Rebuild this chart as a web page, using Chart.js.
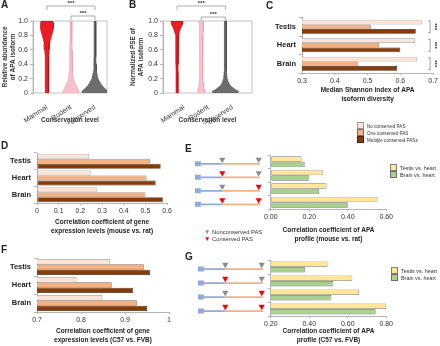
<!DOCTYPE html>
<html>
<head>
<meta charset="utf-8">
<script src="https://cdn.jsdelivr.net/npm/chart.js@4.4.1/dist/chart.umd.min.js"></script>
<style>
  body { margin: 0; background: #fff; }
  #fig { position: relative; width: 440px; height: 346px; overflow: hidden; font-family: "Liberation Sans", Arial, sans-serif; color: #222; }
  #fig canvas { position: absolute; }
  .tag { position: absolute; font: bold 10px "Liberation Sans", Arial, sans-serif; line-height: 10px; }
  .leg { position: absolute; font-size: 5.4px; line-height: 7px; white-space: nowrap; color: #333; }
  .leg div { height: 7px; }
  .sw { display: inline-block; width: 5px; height: 5px; border: 0.6px solid #777; margin-right: 3px; vertical-align: -1px; }
  .tri { display: inline-block; width: 8px; font-size: 6.5px; }
</style>
</head>
<body>
<div id="fig">
  <canvas id="chartA" width="112" height="124" style="left:0;top:0"></canvas>
  <canvas id="chartB" width="129" height="124" style="left:128px;top:0"></canvas>
  <canvas id="chartC" width="172" height="95" style="left:268px;top:10px"></canvas>
  <canvas id="chartD" width="174" height="92" style="left:0;top:145px"></canvas>
  <canvas id="geneE" width="75" height="64" style="left:190px;top:150px"></canvas>
  <canvas id="chartE" width="133" height="95" style="left:262px;top:150px"></canvas>
  <canvas id="chartF" width="174" height="96" style="left:0;top:250px"></canvas>
  <canvas id="geneG" width="75" height="66" style="left:193px;top:255px"></canvas>
  <canvas id="chartG" width="133" height="91" style="left:262px;top:255px"></canvas>

  <div class="tag" style="left:1px;top:0">A</div>
  <div class="tag" style="left:129px;top:0">B</div>
  <div class="tag" style="left:266px;top:1px">C</div>
  <div class="tag" style="left:1px;top:141px">D</div>
  <div class="tag" style="left:185px;top:144px">E</div>
  <div class="tag" style="left:1px;top:245px">F</div>
  <div class="tag" style="left:185px;top:252px">G</div>

  <div class="leg" id="legC" style="left:357px;top:122px;font-size:4.6px"></div>
  <div class="leg" id="legE" style="left:390px;top:162px;line-height:13px"></div>
  <div class="leg" id="legG" style="left:391px;top:265px;line-height:12px"></div>
  <div class="leg" id="legPAS" style="left:204px;top:228px;font-size:5.8px;line-height:8px"></div>
</div>

<script>
// ---- data ----

// A / B violins: half-width (in category units) at each level of the value axis
const violinLevels = [0, 0.02, 0.05, 0.1, 0.15, 0.2, 0.3, 0.4, 0.5, 0.6, 0.7, 0.8, 0.85, 0.9, 0.95, 0.98, 1.0];
const conservationGroups = ['Mammal', 'Rodent', 'Nonconserved'];
const abundanceMammal = [0.06, 0.06, 0.06, 0.065, 0.065, 0.07, 0.072, 0.075, 0.08, 0.09, 0.12, 0.19, 0.24, 0.27, 0.27, 0.26, 0.24];
const abundanceRodent = [0.3, 0.34, 0.3, 0.22, 0.15, 0.1, 0.07, 0.06, 0.05, 0.045, 0.04, 0.04, 0.035, 0.035, 0.035, 0.035, 0.035];
const abundanceNoncons = [0.5, 0.55, 0.45, 0.3, 0.2, 0.12, 0.06, 0.045, 0.04, 0.035, 0.035, 0.035, 0.035, 0.035, 0.035, 0.035, 0.035];
const pseMammal = [0.04, 0.04, 0.04, 0.04, 0.04, 0.04, 0.04, 0.045, 0.045, 0.045, 0.05, 0.07, 0.1, 0.15, 0.22, 0.24, 0.25];
const pseRodent = [0.12, 0.14, 0.14, 0.1, 0.08, 0.07, 0.06, 0.06, 0.06, 0.06, 0.07, 0.07, 0.08, 0.08, 0.09, 0.1, 0.1];
const pseNoncons = [0.5, 0.55, 0.4, 0.2, 0.12, 0.07, 0.05, 0.04, 0.04, 0.04, 0.04, 0.04, 0.04, 0.04, 0.04, 0.04, 0.04];

// C, D, F
const tissues = ['Testis', 'Heart', 'Brain'];
const pasClasses = ['No conserved PAS', 'One conserved PAS', 'Multiple conserved PASs'];
const shannonNoCons = [0.665, 0.645, 0.65];
const shannonOneCons = [0.51, 0.535, 0.47];
const shannonMultiCons = [0.647, 0.60, 0.59];

const exprRatNoCons = [0.24, 0.25, 0.275];
const exprRatOneCons = [0.52, 0.505, 0.50];
const exprRatMultiCons = [0.57, 0.547, 0.58];

const exprFvbNoCons = [0.866, 0.79, 0.848];
const exprFvbOneCons = [0.943, 0.87, 0.927];
const exprFvbMultiCons = [0.957, 0.918, 0.95];

// E, G: four gene models (rows)
const geneModels = ['none', 'proximal', 'distal', 'both'];
const proximalConserved = [false, true, false, true];
const distalConserved = [false, false, true, true];
const comparisons = ['Testis vs. heart', 'Brain vs. heart'];
const apaRatTestis = [0.16, 0.27, 0.29, 0.555];
const apaRatBrain = [0.176, 0.20, 0.25, 0.40];
const apaFvbTestis = [0.495, 0.624, 0.658, 0.80];
const apaFvbBrain = [0.377, 0.525, 0.515, 0.745];

// ---- styles ----
const FONT = '"Liberation Sans", Arial, sans-serif';
Chart.defaults.font.family = FONT;
Chart.defaults.font.size = 7;
Chart.defaults.color = '#333';
Chart.defaults.animation = false;
Chart.defaults.responsive = false;
Chart.defaults.plugins.legend.display = false;
Chart.defaults.plugins.tooltip.enabled = false;

const AXIS = '#b5b5b5';
const pasFill = ['#fce4d6', '#f4b183', '#843c0c'];
const pasLine = ['#9a9a9a', '#8a6a55', '#4e2208'];
const cmpFill = ['#ffe699', '#a9d18e'];
const cmpLine = ['#7f7f7f', '#6d6d6d'];
const titleFont = { size: 6.5, weight: 'bold', lineHeight: 1.3 };
const catFont = { size: 7.5, weight: 'bold' };

// frame box around plot area (A, B)
const frame = {
  id: 'frame',
  beforeDatasetsDraw(chart, args, opts) {
    const { ctx, chartArea: a } = chart;
    ctx.save();
    ctx.strokeStyle = opts.color || AXIS;
    ctx.lineWidth = 0.8;
    ctx.strokeRect(a.left, a.top, a.right - a.left, a.bottom - a.top);
    ctx.restore();
  }
};

// significance brackets above violins
const topBrackets = {
  id: 'topBrackets',
  afterDraw(chart, args, opts) {
    const { ctx, scales: { x } } = chart;
    ctx.save();
    ctx.strokeStyle = '#999';
    ctx.lineWidth = 0.8;
    ctx.fillStyle = '#333';
    ctx.font = 'bold 6px ' + FONT;
    ctx.textAlign = 'center';
    (opts.pairs || []).forEach(([a, b, y]) => {
      const x1 = x.getPixelForValue(a), x2 = x.getPixelForValue(b);
      ctx.beginPath();
      ctx.moveTo(x1, y + 4); ctx.lineTo(x1, y); ctx.lineTo(x2, y); ctx.lineTo(x2, y + 4);
      ctx.stroke();
      ctx.fillText('***', (x1 + x2) / 2, y - 1);
    });
    ctx.restore();
  }
};

// "] ***" markers right of each tissue group (C)
const sideBrackets = {
  id: 'sideBrackets',
  afterDatasetsDraw(chart, args, opts) {
    if (!opts.text) return;
    const { ctx, chartArea: a, scales: { y } } = chart;
    ctx.save();
    ctx.strokeStyle = '#8c8c8c';
    ctx.lineWidth = 0.8;
    ctx.fillStyle = '#333';
    ctx.font = 'bold 6px ' + FONT;
    y.ticks.forEach((t, i) => {
      const cy = y.getPixelForTick(i), bx = a.right - 3;
      ctx.beginPath();
      ctx.moveTo(bx - 2, cy - 6); ctx.lineTo(bx, cy - 6); ctx.lineTo(bx, cy + 6); ctx.lineTo(bx - 2, cy + 6);
      ctx.stroke();
      ctx.save();
      ctx.translate(bx + 5, cy);
      ctx.rotate(Math.PI / 2);
      ctx.textAlign = 'center';
      ctx.textBaseline = 'middle';
      ctx.fillText(opts.text, 0, 0);
      ctx.restore();
    });
    ctx.restore();
  }
};

// ---- violin panels ----
function violinChart(id, series, o) {
  const datasets = series.map((s, i) => {
    const left = violinLevels.map((y, k) => ({ x: i + 1 - s.w[k], y }));
    const right = violinLevels.map((y, k) => ({ x: i + 1 + s.w[k], y })).reverse();
    return {
      data: left.concat(right),
      backgroundColor: s.fill,
      borderColor: s.line,
      borderWidth: 0.6,
      fill: 'shape',
      pointRadius: 0,
      tension: 0
    };
  });
  return new Chart(document.getElementById(id), {
    type: 'line',
    data: { datasets },
    plugins: [frame, topBrackets],
    options: {
      layout: { padding: { top: 21, right: 5, left: 0, bottom: 0 } },
      plugins: { topBrackets: { pairs: o.brackets } },
      scales: {
        x: {
          type: 'linear', min: o.xmin, max: o.xmax,
          grid: { display: false },
          border: { display: false },
          ticks: {
            stepSize: 1, includeBounds: false, autoSkip: false,
            minRotation: 34, maxRotation: 34, padding: 2, labelOffset: o.labelOffset || 0,
            font: { size: 7 },
            callback: v => conservationGroups[v - 1] || ''
          },
          title: { display: true, text: 'Conservation level', font: titleFont, padding: { top: 0, bottom: 0 } },
          afterFit: s => { s.height = 31; }
        },
        y: {
          min: 0, max: 1,
          grid: { drawOnChartArea: false, tickLength: 3, color: AXIS },
          border: { color: AXIS },
          ticks: { stepSize: 0.2, padding: 2, callback: v => v === 0 ? '0' : v.toFixed(1) },
          title: { display: true, text: o.ytitle, font: titleFont, padding: { top: 1, bottom: 0 } },
          afterFit: s => { s.width = o.yw; }
        }
      }
    }
  });
}

violinChart('chartA', [
  { w: abundanceMammal, fill: '#ed1c24', line: '#c00000' },
  { w: abundanceRodent, fill: '#f8c1cc', line: '#eb9aad' },
  { w: abundanceNoncons, fill: '#6d6d6d', line: '#404040' }
], { xmin: 0.42, xmax: 3.5, yw: 33, ytitle: ['Relative abundance', 'of APA isoform'], brackets: [[1, 3, 6], [2, 3, 16]] });

violinChart('chartB', [
  { w: pseMammal, fill: '#ed1c24', line: '#c00000' },
  { w: pseRodent, fill: '#f8c1cc', line: '#eb9aad' },
  { w: pseNoncons, fill: '#6d6d6d', line: '#404040' }
], { xmin: 0.42, xmax: 4.1, yw: 35, labelOffset: 7, ytitle: ['Normalized PSE of', 'APA isoform'], brackets: [[1, 3, 6], [2, 3, 17]] });

// ---- horizontal bar panels ----
function hbar(id, o) {
  return new Chart(document.getElementById(id), {
    type: 'bar',
    data: {
      labels: o.labels,
      datasets: o.series.map((d, i) => ({
        data: d,
        backgroundColor: o.fill[i],
        borderColor: o.line[i],
        borderWidth: 0.7,
        borderSkipped: false,
        categoryPercentage: o.cat,
        barPercentage: 1
      }))
    },
    plugins: o.plugins || [],
    options: {
      indexAxis: 'y',
      layout: { padding: { top: o.top, right: o.right, left: 0, bottom: 0 } },
      plugins: { sideBrackets: { text: o.stars } },
      scales: {
        x: {
          min: o.min, max: o.max,
          grid: { drawOnChartArea: false, tickLength: 2, color: AXIS },
          border: { color: AXIS },
          ticks: { stepSize: o.step, padding: 2, callback: o.fmt },
          title: { display: true, text: o.title, font: titleFont, color: '#222', padding: { top: 0, bottom: 2 } },
          afterFit: s => { s.height = o.xh; }
        },
        y: {
          grid: { tickLength: 3, drawOnChartArea: false, color: AXIS },
          border: { color: AXIS },
          ticks: { display: o.showCats, font: catFont, color: '#222', padding: 3 },
          afterFit: s => { s.width = o.yw; }
        }
      }
    }
  });
}

hbar('chartC', {
  labels: tissues, series: [shannonNoCons, shannonOneCons, shannonMultiCons],
  fill: pasFill, line: pasLine, cat: 0.76, min: 0.3, max: 0.7, step: 0.1,
  fmt: v => v.toFixed(1), top: 6, right: 5, xh: 32, yw: 34, showCats: true,
  title: ['Median Shannon index of APA', 'isoform diversity'],
  plugins: [sideBrackets], stars: '***'
});

hbar('chartD', {
  labels: tissues, series: [exprRatNoCons, exprRatOneCons, exprRatMultiCons],
  fill: pasFill, line: pasLine, cat: 0.9, min: 0, max: 0.6, step: 0.1,
  fmt: v => v === 0 ? '0' : v.toFixed(1), top: 8, right: 6, xh: 34, yw: 37, showCats: true,
  title: ['Correlation coefficient of gene', 'expression levels (mouse vs. rat)']
});

hbar('chartF', {
  labels: tissues, series: [exprFvbNoCons, exprFvbOneCons, exprFvbMultiCons],
  fill: pasFill, line: pasLine, cat: 0.88, min: 0.7, max: 1, step: 0.1,
  fmt: v => v === 1 ? '1' : v.toFixed(1), top: 8, right: 5, xh: 34, yw: 37, showCats: true,
  title: ['Correlation coefficient of gene', 'expression levels (C57 vs. FVB)']
});

hbar('chartE', {
  labels: geneModels, series: [apaRatTestis, apaRatBrain],
  fill: cmpFill, line: cmpLine, cat: 0.8, min: 0, max: 0.6, step: 0.2,
  fmt: v => v.toFixed(2), top: 5, right: 6, xh: 36, yw: 5, showCats: false,
  title: ['Correlation coefficient of APA', 'profile (mouse vs. rat)']
});

hbar('chartG', {
  labels: geneModels, series: [apaFvbTestis, apaFvbBrain],
  fill: cmpFill, line: cmpLine, cat: 0.8, min: 0.2, max: 0.8, step: 0.2,
  fmt: v => v.toFixed(2), top: 5, right: 6, xh: 30, yw: 5, showCats: false,
  title: ['Correlation coefficient of APA', 'profile (C57 vs. FVB)']
});

// ---- gene model sketches (E, G) ----
const utr = { cdsEnd: 0.09, proximal: 0.42, distal: 0.98, end: 1 };
function segment(x0, x1, dy) {
  const pts = [];
  geneModels.forEach((g, r) => {
    pts.push({ x: x0, y: r + dy }, { x: x1, y: r + dy }, { x: x1, y: null });
  });
  return pts;
}
function geneChart(id) {
  const sites = [];
  const siteColors = [];
  geneModels.forEach((g, r) => {
    sites.push({ x: utr.proximal, y: r - 0.17 }, { x: utr.distal, y: r - 0.17 });
    siteColors.push(proximalConserved[r] ? '#ff0000' : '#8c8c8c', distalConserved[r] ? '#ff0000' : '#8c8c8c');
  });
  const seg = (data, color, w) => ({ data, borderColor: color, borderWidth: w, pointRadius: 0, spanGaps: false, borderCapStyle: 'butt', clip: false });
  return new Chart(document.getElementById(id), {
    type: 'line',
    data: {
      datasets: [
        seg(segment(0, utr.cdsEnd, 0.15), '#8faadc', 5),
        seg(segment(utr.cdsEnd, utr.proximal, 0.15), '#8faadc', 1.8),
        seg(segment(utr.proximal, utr.end, 0.15), '#f4b183', 1.8),
        {
          data: sites, showLine: false, pointStyle: 'triangle', rotation: 180,
          pointRadius: 3.6, pointBorderWidth: 0, pointBackgroundColor: siteColors, clip: false
        }
      ]
    },
    options: {
      layout: { padding: 5 },
      scales: {
        x: { type: 'linear', min: 0, max: 1, display: false },
        y: { type: 'linear', min: -0.5, max: 3.5, reverse: true, display: false }
      }
    }
  });
}
geneChart('geneE');
geneChart('geneG');

// ---- legends ----
function swatchLegend(el, names, fills, lines) {
  document.getElementById(el).innerHTML = names.map((n, i) =>
    `<div><span class="sw" style="background:${fills[i]};border-color:${lines[i]}"></span>${n}</div>`).join('');
}
swatchLegend('legC', pasClasses, pasFill, pasLine);
swatchLegend('legE', comparisons, cmpFill, cmpLine);
swatchLegend('legG', comparisons, cmpFill, cmpLine);
document.getElementById('legPAS').innerHTML =
  '<div><span class="tri" style="color:#8c8c8c">▼</span>Nonconserved PAS</div>' +
  '<div><span class="tri" style="color:#ff0000">▼</span>Conserved PAS</div>';
</script>
</body>
</html>
